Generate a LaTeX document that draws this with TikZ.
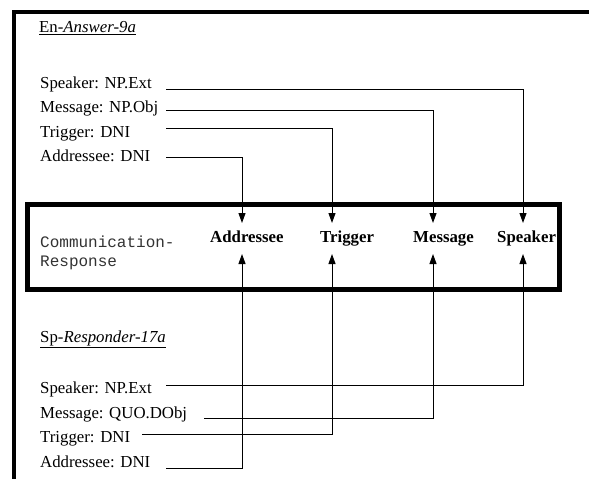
\documentclass[tikz,border=0pt]{standalone}
\usepackage{fontspec}
\setmainfont{Liberation Serif}
\setmonofont{Liberation Mono}
\usetikzlibrary{arrows.meta,calc}
\begin{document}
\begin{tikzpicture}[x=1pt,y=-1pt,
  lbl/.style={anchor=base west, inner sep=0pt, font=\fontsize{16.8}{20}\selectfont},
  role/.style={anchor=base west, inner sep=0pt, font=\fontsize{16.8}{20}\selectfont\bfseries},
  mono/.style={anchor=base west, inner sep=0pt, font=\fontsize{16}{19}\selectfont\ttfamily, text=black!80},
  conn/.style={line width=1pt},
  arr/.style={conn, -{Triangle[length=10pt,width=7pt]}},
  ul/.style={line width=0.9pt},
  outerframe/.style={line width=3.8pt, line join=miter},
  boxframe/.style={line width=5pt, line join=miter}]

\useasboundingbox (0,0) rectangle (589,479);
\fill[white] (0,0) rectangle (589,479);

% outer frame (only top and left visible)
\draw[outerframe] (13.7,479) -- (13.7,11.8) -- (589,11.8);

% inner box
\draw[boxframe] (27.5,204) rectangle (559.5,289.5);

% titles
\node[lbl] (t1) at (39,32.5) {En-\textit{Answer-9a}};
\draw[ul] ($(t1.base west)+(0,2.2)$) -- ($(t1.base east)+(0,2.2)$);
\node[lbl] (t2) at (40,342.5) {Sp-\textit{Responder-17a}};
\draw[ul] ($(t2.base west)+(0,5)$) -- ($(t2.base east)+(0,5)$);

% top labels
\node[lbl] (ts) at (40,88) {Speaker: NP.Ext};
\node[lbl] (tm) at (40,112.5) {Message: NP.Obj};
\node[lbl] (tt) at (40,137) {Trigger: DNI};
\node[lbl] (ta) at (40,161.5) {Addressee: DNI};

% bottom labels
\node[lbl] (bs) at (40,393) {Speaker: NP.Ext};
\node[lbl] (bm) at (40,418) {Message: QUO.DObj};
\node[lbl] (bt) at (40,442) {Trigger: DNI};
\node[lbl] (ba) at (40,467) {Addressee: DNI};

% box content
\node[mono] (c1) at (40,247) {Communication-};
\node[mono] (c2) at (40,266) {Response};
\node[role] (ra) at (210,242) {Addressee};
\node[role] (rt) at (320,242) {Trigger};
\node[role] (rm) at (413,242) {Message};
\node[role] (rs) at (497,242) {Speaker};

% connector start points
\coordinate (ts0) at (166,89);
\coordinate (tm0) at (166,110);
\coordinate (tt0) at (166,128.5);
\coordinate (ta0) at (166,157);
\coordinate (bs0) at (166,385);
\coordinate (bm0) at (204,418);
\coordinate (bt0) at (142,434);
\coordinate (ba0) at (166,468);

% arrow tips at the box
\coordinate (aT) at (242,223);
\coordinate (tT) at (332,223);
\coordinate (mT) at (433,223);
\coordinate (sT) at (523,223);
\coordinate (aB) at (242,254);
\coordinate (tB) at (332,254);
\coordinate (mB) at (433,254);
\coordinate (sB) at (523,254);

\draw[arr] (ts0) -| (sT);
\draw[arr] (tm0) -| (mT);
\draw[arr] (tt0) -| (tT);
\draw[arr] (ta0) -| (aT);

\draw[arr] (bs0) -| (sB);
\draw[arr] (bm0) -| (mB);
\draw[arr] (bt0) -| (tB);
\draw[arr] (ba0) -| (aB);
\end{tikzpicture}
\end{document}
